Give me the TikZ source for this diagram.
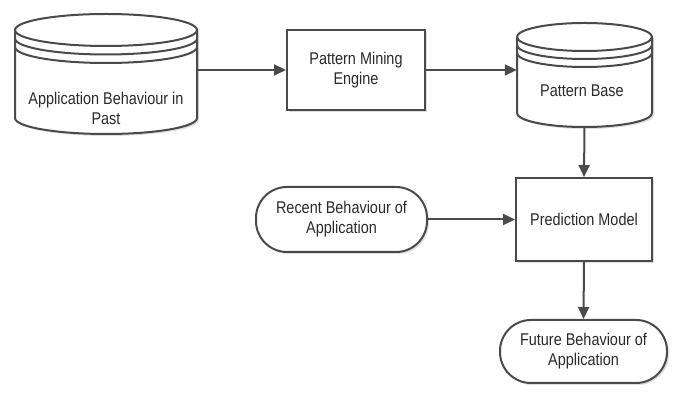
\documentclass[tikz,border=0pt]{standalone}
\usepackage{fontspec}
\setmainfont[FakeStretch=0.85]{Liberation Sans}
\usepackage{tikz}
\usetikzlibrary{arrows.meta,shadows,positioning}
\definecolor{lineg}{HTML}{4A4A4A}
\definecolor{textg}{HTML}{2A2A2A}

\begin{document}
\begin{tikzpicture}[x=1pt,y=1pt,
  line/.style={draw=lineg, line width=2pt},
  shad/.style={drop shadow={shadow xshift=2pt, shadow yshift=-2pt, opacity=0.25, fill=gray}},
  flow/.style={line, -{Triangle[length=12pt,width=11pt]}},
  procbox/.style={line, fill=white, shad, rectangle, inner sep=0pt, align=center},
  termbox/.style={line, fill=white, shad, rectangle, rounded corners=31pt, inner sep=0pt, align=center},
  frame/.style={rectangle, inner sep=0pt},
  txt/.style={text=textg, align=center, font=\fontsize{17}{20}\selectfont},
  every node/.append style={text=textg, font=\fontsize{17}{20}\selectfont}]
 \useasboundingbox (0,0) rectangle (678,393);
 \draw[line, fill=white, shad] (15,363) -- (15,275) arc[start angle=180, end angle=360, x radius=91, y radius=16] -- (197,363) arc[start angle=0, end angle=180, x radius=91, y radius=16] -- cycle;
 \draw[line] (15,363) arc[start angle=180, end angle=360, x radius=91, y radius=16];
 \draw[line] (15,354.5) arc[start angle=180, end angle=360, x radius=91, y radius=16];
 \draw[line] (15,346) arc[start angle=180, end angle=360, x radius=91, y radius=16];
 \draw[line, fill=white, shad] (517,356) -- (517,280) arc[start angle=180, end angle=360, x radius=67.5, y radius=14] -- (652,356) arc[start angle=0, end angle=180, x radius=67.5, y radius=14] -- cycle;
 \draw[line] (517,356) arc[start angle=180, end angle=360, x radius=67.5, y radius=14];
 \draw[line] (517,348) arc[start angle=180, end angle=360, x radius=67.5, y radius=14];
 \draw[line] (517,340) arc[start angle=180, end angle=360, x radius=67.5, y radius=14];

 \node[frame, minimum width=182pt, minimum height=121pt] (abp) at (106,318.5) {};
 \node[txt] (abptext) at (106,285) {Application Behaviour in\\Past};
 \node[frame, minimum width=135pt, minimum height=104pt] (pb) at (584.5,318) {};
 \node[txt] (pbtext) at (582,302) {Pattern Base};
 \node[procbox, minimum width=138pt, minimum height=80pt] (pme) at (356,323) {Pattern Mining\\Engine};
 \node[procbox, minimum width=136pt, minimum height=83pt] (pm) at (584,173.5) {Prediction Model};
 \node[termbox, minimum width=171pt, minimum height=65pt] (rb) at (341.5,173.5) {Recent Behaviour of\\Application};
 \node[termbox, minimum width=167pt, minimum height=63pt] (fb) at (583.5,41.5) {Future Behaviour of\\Application};

 \draw[flow] (abp.east |- pme.west) -- (pme.west);
 \draw[flow] (pme.east) -- (pme.east -| pb.west);
 \draw[flow] (pb.south) -- (pm.north);
 \draw[flow] (rb.east) -- (pm.west);
 \draw[flow] (pm.south) -- (fb.north);
\end{tikzpicture}
\end{document}
